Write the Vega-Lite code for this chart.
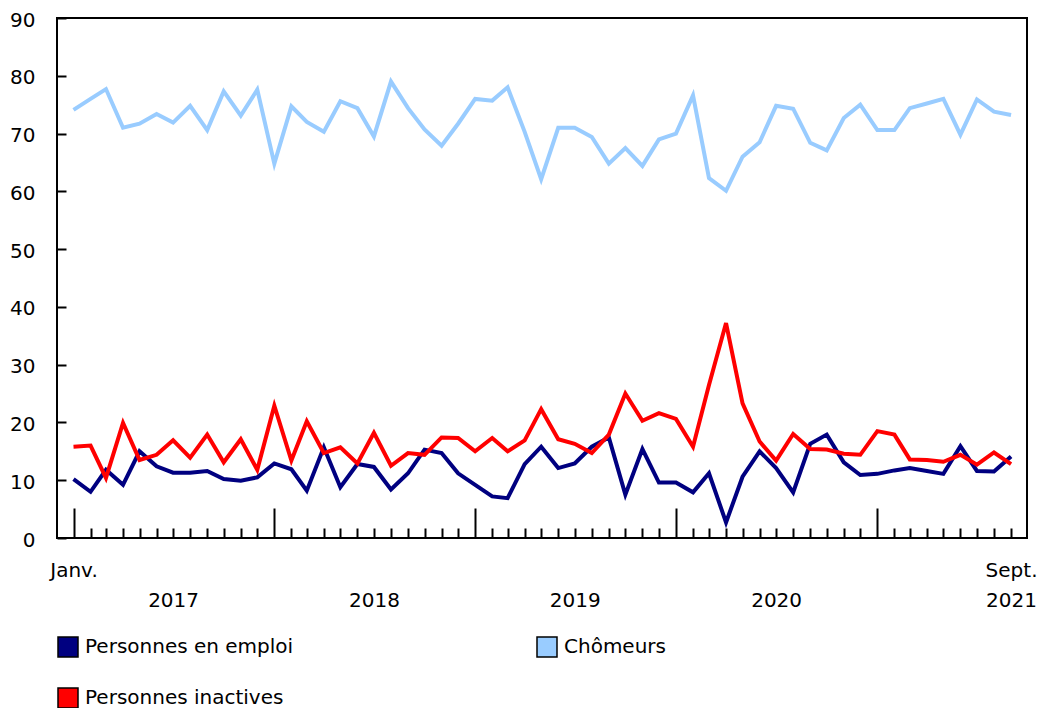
{
 "$schema": "https://vega.github.io/schema/vega-lite/v6.json",
 "width": 970,
 "height": 520,
 "autosize": {"type": "none"},
 "padding": {"left": 57, "top": 18, "right": 10, "bottom": 170},
 "config": {
  "font": "DejaVu Sans",
  "view": {"stroke": "black", "strokeWidth": 2},
  "axis": {"labelFont": "DejaVu Sans", "labelFontSize": 20, "labelColor": "black", "tickColor": "black", "grid": false, "domain": false, "title": null}
 },
 "data": {"values": [
  {"date":"2017-01-01","series":"Personnes en emploi","value":10.2},
  {"date":"2017-02-01","series":"Personnes en emploi","value":8.0},
  {"date":"2017-03-01","series":"Personnes en emploi","value":11.8},
  {"date":"2017-04-01","series":"Personnes en emploi","value":9.2},
  {"date":"2017-05-01","series":"Personnes en emploi","value":15.0},
  {"date":"2017-06-01","series":"Personnes en emploi","value":12.4},
  {"date":"2017-07-01","series":"Personnes en emploi","value":11.3},
  {"date":"2017-08-01","series":"Personnes en emploi","value":11.3},
  {"date":"2017-09-01","series":"Personnes en emploi","value":11.6},
  {"date":"2017-10-01","series":"Personnes en emploi","value":10.2},
  {"date":"2017-11-01","series":"Personnes en emploi","value":9.9},
  {"date":"2017-12-01","series":"Personnes en emploi","value":10.5},
  {"date":"2018-01-01","series":"Personnes en emploi","value":12.9},
  {"date":"2018-02-01","series":"Personnes en emploi","value":11.9},
  {"date":"2018-03-01","series":"Personnes en emploi","value":8.2},
  {"date":"2018-04-01","series":"Personnes en emploi","value":15.7},
  {"date":"2018-05-01","series":"Personnes en emploi","value":8.8},
  {"date":"2018-06-01","series":"Personnes en emploi","value":12.8},
  {"date":"2018-07-01","series":"Personnes en emploi","value":12.3},
  {"date":"2018-08-01","series":"Personnes en emploi","value":8.4},
  {"date":"2018-09-01","series":"Personnes en emploi","value":11.2},
  {"date":"2018-10-01","series":"Personnes en emploi","value":15.3},
  {"date":"2018-11-01","series":"Personnes en emploi","value":14.7},
  {"date":"2018-12-01","series":"Personnes en emploi","value":11.2},
  {"date":"2019-01-01","series":"Personnes en emploi","value":9.2},
  {"date":"2019-02-01","series":"Personnes en emploi","value":7.2},
  {"date":"2019-03-01","series":"Personnes en emploi","value":6.9},
  {"date":"2019-04-01","series":"Personnes en emploi","value":12.8},
  {"date":"2019-05-01","series":"Personnes en emploi","value":15.8},
  {"date":"2019-06-01","series":"Personnes en emploi","value":12.1},
  {"date":"2019-07-01","series":"Personnes en emploi","value":12.9},
  {"date":"2019-08-01","series":"Personnes en emploi","value":15.8},
  {"date":"2019-09-01","series":"Personnes en emploi","value":17.4},
  {"date":"2019-10-01","series":"Personnes en emploi","value":7.5},
  {"date":"2019-11-01","series":"Personnes en emploi","value":15.4},
  {"date":"2019-12-01","series":"Personnes en emploi","value":9.6},
  {"date":"2020-01-01","series":"Personnes en emploi","value":9.6},
  {"date":"2020-02-01","series":"Personnes en emploi","value":7.9},
  {"date":"2020-03-01","series":"Personnes en emploi","value":11.2},
  {"date":"2020-04-01","series":"Personnes en emploi","value":2.7},
  {"date":"2020-05-01","series":"Personnes en emploi","value":10.6},
  {"date":"2020-06-01","series":"Personnes en emploi","value":15.0},
  {"date":"2020-07-01","series":"Personnes en emploi","value":12.1},
  {"date":"2020-08-01","series":"Personnes en emploi","value":7.9},
  {"date":"2020-09-01","series":"Personnes en emploi","value":16.3},
  {"date":"2020-10-01","series":"Personnes en emploi","value":17.9},
  {"date":"2020-11-01","series":"Personnes en emploi","value":13.1},
  {"date":"2020-12-01","series":"Personnes en emploi","value":10.9},
  {"date":"2021-01-01","series":"Personnes en emploi","value":11.1},
  {"date":"2021-02-01","series":"Personnes en emploi","value":11.7},
  {"date":"2021-03-01","series":"Personnes en emploi","value":12.1},
  {"date":"2021-04-01","series":"Personnes en emploi","value":11.6},
  {"date":"2021-05-01","series":"Personnes en emploi","value":11.1},
  {"date":"2021-06-01","series":"Personnes en emploi","value":15.9},
  {"date":"2021-07-01","series":"Personnes en emploi","value":11.6},
  {"date":"2021-08-01","series":"Personnes en emploi","value":11.5},
  {"date":"2021-09-01","series":"Personnes en emploi","value":14.1},
  {"date":"2017-01-01","series":"Chômeurs","value":74.1},
  {"date":"2017-02-01","series":"Chômeurs","value":76.0},
  {"date":"2017-03-01","series":"Chômeurs","value":77.7},
  {"date":"2017-04-01","series":"Chômeurs","value":71.0},
  {"date":"2017-05-01","series":"Chômeurs","value":71.7},
  {"date":"2017-06-01","series":"Chômeurs","value":73.4},
  {"date":"2017-07-01","series":"Chômeurs","value":71.9},
  {"date":"2017-08-01","series":"Chômeurs","value":74.8},
  {"date":"2017-09-01","series":"Chômeurs","value":70.6},
  {"date":"2017-10-01","series":"Chômeurs","value":77.3},
  {"date":"2017-11-01","series":"Chômeurs","value":73.1},
  {"date":"2017-12-01","series":"Chômeurs","value":77.6},
  {"date":"2018-01-01","series":"Chômeurs","value":64.8},
  {"date":"2018-02-01","series":"Chômeurs","value":74.7},
  {"date":"2018-03-01","series":"Chômeurs","value":72.0},
  {"date":"2018-04-01","series":"Chômeurs","value":70.3},
  {"date":"2018-05-01","series":"Chômeurs","value":75.6},
  {"date":"2018-06-01","series":"Chômeurs","value":74.4},
  {"date":"2018-07-01","series":"Chômeurs","value":69.5},
  {"date":"2018-08-01","series":"Chômeurs","value":79.0},
  {"date":"2018-09-01","series":"Chômeurs","value":74.4},
  {"date":"2018-10-01","series":"Chômeurs","value":70.7},
  {"date":"2018-11-01","series":"Chômeurs","value":67.9},
  {"date":"2018-12-01","series":"Chômeurs","value":71.7},
  {"date":"2019-01-01","series":"Chômeurs","value":76.0},
  {"date":"2019-02-01","series":"Chômeurs","value":75.7},
  {"date":"2019-03-01","series":"Chômeurs","value":78.0},
  {"date":"2019-04-01","series":"Chômeurs","value":70.3},
  {"date":"2019-05-01","series":"Chômeurs","value":62.1},
  {"date":"2019-06-01","series":"Chômeurs","value":71.0},
  {"date":"2019-07-01","series":"Chômeurs","value":71.0},
  {"date":"2019-08-01","series":"Chômeurs","value":69.4},
  {"date":"2019-09-01","series":"Chômeurs","value":64.8},
  {"date":"2019-10-01","series":"Chômeurs","value":67.5},
  {"date":"2019-11-01","series":"Chômeurs","value":64.4},
  {"date":"2019-12-01","series":"Chômeurs","value":69.0},
  {"date":"2020-01-01","series":"Chômeurs","value":70.0},
  {"date":"2020-02-01","series":"Chômeurs","value":76.6},
  {"date":"2020-03-01","series":"Chômeurs","value":62.3},
  {"date":"2020-04-01","series":"Chômeurs","value":60.1},
  {"date":"2020-05-01","series":"Chômeurs","value":66.0},
  {"date":"2020-06-01","series":"Chômeurs","value":68.5},
  {"date":"2020-07-01","series":"Chômeurs","value":74.8},
  {"date":"2020-08-01","series":"Chômeurs","value":74.3},
  {"date":"2020-09-01","series":"Chômeurs","value":68.4},
  {"date":"2020-10-01","series":"Chômeurs","value":67.1},
  {"date":"2020-11-01","series":"Chômeurs","value":72.7},
  {"date":"2020-12-01","series":"Chômeurs","value":75.0},
  {"date":"2021-01-01","series":"Chômeurs","value":70.6},
  {"date":"2021-02-01","series":"Chômeurs","value":70.6},
  {"date":"2021-03-01","series":"Chômeurs","value":74.4},
  {"date":"2021-04-01","series":"Chômeurs","value":75.2},
  {"date":"2021-05-01","series":"Chômeurs","value":76.0},
  {"date":"2021-06-01","series":"Chômeurs","value":69.8},
  {"date":"2021-07-01","series":"Chômeurs","value":75.9},
  {"date":"2021-08-01","series":"Chômeurs","value":73.8},
  {"date":"2021-09-01","series":"Chômeurs","value":73.2},
  {"date":"2017-01-01","series":"Personnes inactives","value":15.8},
  {"date":"2017-02-01","series":"Personnes inactives","value":16.0},
  {"date":"2017-03-01","series":"Personnes inactives","value":10.4},
  {"date":"2017-04-01","series":"Personnes inactives","value":19.9},
  {"date":"2017-05-01","series":"Personnes inactives","value":13.5},
  {"date":"2017-06-01","series":"Personnes inactives","value":14.4},
  {"date":"2017-07-01","series":"Personnes inactives","value":16.9},
  {"date":"2017-08-01","series":"Personnes inactives","value":13.9},
  {"date":"2017-09-01","series":"Personnes inactives","value":17.9},
  {"date":"2017-10-01","series":"Personnes inactives","value":13.1},
  {"date":"2017-11-01","series":"Personnes inactives","value":17.1},
  {"date":"2017-12-01","series":"Personnes inactives","value":11.8},
  {"date":"2018-01-01","series":"Personnes inactives","value":22.9},
  {"date":"2018-02-01","series":"Personnes inactives","value":13.4},
  {"date":"2018-03-01","series":"Personnes inactives","value":20.2},
  {"date":"2018-04-01","series":"Personnes inactives","value":14.7},
  {"date":"2018-05-01","series":"Personnes inactives","value":15.7},
  {"date":"2018-06-01","series":"Personnes inactives","value":12.9},
  {"date":"2018-07-01","series":"Personnes inactives","value":18.2},
  {"date":"2018-08-01","series":"Personnes inactives","value":12.5},
  {"date":"2018-09-01","series":"Personnes inactives","value":14.7},
  {"date":"2018-10-01","series":"Personnes inactives","value":14.4},
  {"date":"2018-11-01","series":"Personnes inactives","value":17.4},
  {"date":"2018-12-01","series":"Personnes inactives","value":17.3},
  {"date":"2019-01-01","series":"Personnes inactives","value":15.0},
  {"date":"2019-02-01","series":"Personnes inactives","value":17.3},
  {"date":"2019-03-01","series":"Personnes inactives","value":15.0},
  {"date":"2019-04-01","series":"Personnes inactives","value":16.9},
  {"date":"2019-05-01","series":"Personnes inactives","value":22.3},
  {"date":"2019-06-01","series":"Personnes inactives","value":17.1},
  {"date":"2019-07-01","series":"Personnes inactives","value":16.3},
  {"date":"2019-08-01","series":"Personnes inactives","value":14.7},
  {"date":"2019-09-01","series":"Personnes inactives","value":17.9},
  {"date":"2019-10-01","series":"Personnes inactives","value":25.0},
  {"date":"2019-11-01","series":"Personnes inactives","value":20.3},
  {"date":"2019-12-01","series":"Personnes inactives","value":21.6},
  {"date":"2020-01-01","series":"Personnes inactives","value":20.6},
  {"date":"2020-02-01","series":"Personnes inactives","value":15.8},
  {"date":"2020-03-01","series":"Personnes inactives","value":26.5},
  {"date":"2020-04-01","series":"Personnes inactives","value":37.2},
  {"date":"2020-05-01","series":"Personnes inactives","value":23.3},
  {"date":"2020-06-01","series":"Personnes inactives","value":16.7},
  {"date":"2020-07-01","series":"Personnes inactives","value":13.4},
  {"date":"2020-08-01","series":"Personnes inactives","value":18.0},
  {"date":"2020-09-01","series":"Personnes inactives","value":15.4},
  {"date":"2020-10-01","series":"Personnes inactives","value":15.3},
  {"date":"2020-11-01","series":"Personnes inactives","value":14.6},
  {"date":"2020-12-01","series":"Personnes inactives","value":14.4},
  {"date":"2021-01-01","series":"Personnes inactives","value":18.5},
  {"date":"2021-02-01","series":"Personnes inactives","value":17.9},
  {"date":"2021-03-01","series":"Personnes inactives","value":13.6},
  {"date":"2021-04-01","series":"Personnes inactives","value":13.5},
  {"date":"2021-05-01","series":"Personnes inactives","value":13.2},
  {"date":"2021-06-01","series":"Personnes inactives","value":14.4},
  {"date":"2021-07-01","series":"Personnes inactives","value":12.7},
  {"date":"2021-08-01","series":"Personnes inactives","value":14.8},
  {"date":"2021-09-01","series":"Personnes inactives","value":12.8}
 ]},
 "layer": [
  {
   "mark": {"type": "line", "strokeWidth": 4},
   "encoding": {
    "x": {
     "field": "date", "type": "temporal",
     "scale": {"type": "utc", "domain": [{"year": 2016, "month": 12, "date": 2, "utc": true}, {"year": 2021, "month": 9, "date": 30, "utc": true}]},
     "axis": {
      "orient": "bottom", "labels": false, "domain": false,
      "tickCount": {"interval": "month", "step": 1},
      "tickWidth": 2,
      "tickSize": {"condition": {"test": "utcmonth(datum.value) == 0", "value": -30}, "value": -10}
     }
    },
    "y": {
     "field": "value", "type": "quantitative",
     "scale": {"domain": [0, 90], "nice": false, "zero": true},
     "axis": {"values": [0,10,20,30,40,50,60,70,80,90], "tickSize": -9, "tickWidth": 2, "labelPadding": 31, "labelOffset": 2, "domain": false}
    },
    "color": {
     "field": "series", "type": "nominal",
     "scale": {"domain": ["Personnes en emploi", "Chômeurs", "Personnes inactives"], "range": ["#000080", "#99ccff", "#ff0000"]},
     "legend": null
    }
   }
  },
  {
   "mark": {"type": "line", "opacity": 0},
   "encoding": {
    "x": {
     "field": "date", "type": "temporal",
     "axis": {
      "orient": "bottom", "ticks": false, "domain": false, "labels": true,
      "tickCount": {"interval": "month", "step": 1},
      "labelExpr": "utcmonth(datum.value)==0 && utcyear(datum.value)==2017 ? ['Janv.', ''] : (utcmonth(datum.value)==8 && utcyear(datum.value)==2021 ? ['Sept.', '2021'] : (utcmonth(datum.value)==6 && utcyear(datum.value)<2021 ? ['', '' + utcyear(datum.value)] : ''))",
      "labelPadding": 22, "labelLineHeight": 30, "labelOverlap": false, "labelFlush": false, "labelBound": false, "labelBaseline": "top"
     }
    },
    "y": {"field": "value", "type": "quantitative", "axis": null},
    "detail": {"field": "series", "type": "nominal"}
   }
  },
  {
   "data": {"values": []},
   "mark": {"type": "square", "filled": true, "opacity": 1, "stroke": "black", "strokeWidth": 1.5},
   "encoding": {
    "x": {"field": "date", "type": "temporal", "axis": null},
    "y": {"field": "value", "type": "quantitative", "axis": null},
    "color": {
     "field": "series", "type": "nominal",
     "legend": {
      "orient": "none", "legendX": 0, "legendY": 618, "columns": 2, "direction": "horizontal",
      "title": null, "symbolType": "square", "symbolSize": 400, "symbolStrokeWidth": 1.5, "symbolStrokeColor": "black", "symbolOpacity": 1,
      "labelFont": "DejaVu Sans", "labelFontSize": 20, "labelColor": "black", "labelOffset": 6, "labelLimit": 400,
      "columnPadding": 240, "rowPadding": 25, "padding": 0
     }
    }
   }
  }
 ],
 "resolve": {"axis": {"x": "independent", "y": "independent"}, "legend": {"color": "independent"}}
}
